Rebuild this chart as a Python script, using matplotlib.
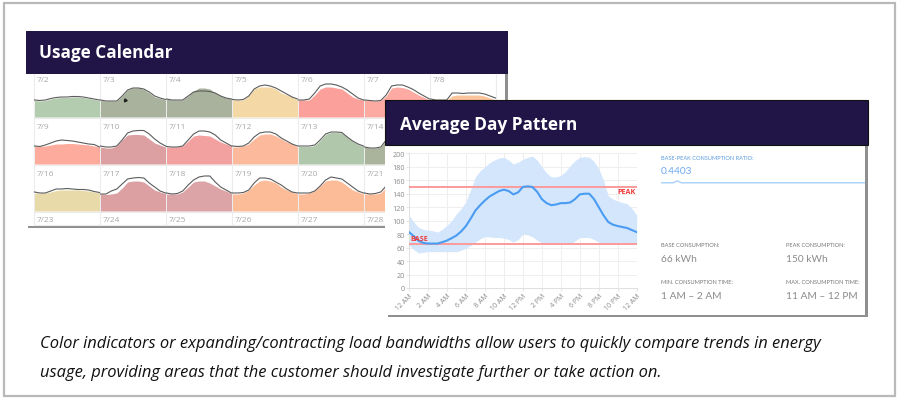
import matplotlib
matplotlib.use("Agg")
import matplotlib.pyplot as plt
from matplotlib.patches import Rectangle

W, H = 900, 402
SANS = ["Open Sans", "Noto Sans", "DejaVu Sans"]
THIN = ["Lato", "Open Sans", "DejaVu Sans"]
plt.rcParams["font.family"] = SANS

# ---------- calendar data (one list per day, every 2 hours, 12 AM to 12 AM) ----------
LINE_02 = [17, 16.5, 17, 18.5, 19.5, 20, 20, 20.5, 20.5, 20, 19, 18, 17]
AREA_02 = [16.5, 16, 16.5, 18, 19, 19.5, 19.5, 20, 20, 19.5, 18.5, 17.5, 16.5]
LINE_03 = [17, 16, 16, 16, 21, 27, 29, 29, 28, 25, 21, 19, 17.5]
AREA_03 = [16.5, 16, 16, 16, 21, 27, 29, 29, 27.5, 24, 20, 18.5, 17]
LINE_04 = [18, 17, 17, 17, 21, 25, 26, 26, 25.5, 24, 21, 19, 18]
AREA_04 = [18, 17, 17, 17, 21, 26, 29, 29, 28, 24, 21, 19, 18]
LINE_05 = [17.5, 17, 17.5, 21, 28, 31, 32, 31, 29, 26, 23, 20, 18]
AREA_05 = [17, 17, 17, 21, 28, 30, 30, 30, 28, 24, 22, 20, 17]
LINE_06 = [17, 17, 18, 24, 31, 33, 33, 32, 30, 27, 23, 19, 17]
AREA_06 = [17, 17, 17, 22, 28, 30, 30, 29, 28, 24, 20, 18, 17]
LINE_07 = [17, 16.5, 16, 16.5, 22, 31, 32, 32, 30, 27.5, 24, 21, 18]
AREA_07 = [17, 16.5, 16, 16.5, 21, 29, 30, 29.5, 28, 25, 22, 19.5, 17]
LINE_08 = [18, 17, 17, 17, 24, 24, 23.5, 24, 24, 24, 23, 21, 19]
AREA_08 = [17, 17, 17, 17, 21, 22, 22, 22, 22, 22, 21, 19, 17]

LINE_09 = [18, 17.5, 19, 21, 23, 24, 23.5, 23, 22, 21, 20, 19.5, 17]
AREA_09 = [17.5, 17.5, 18, 19, 20, 20, 20.5, 20.5, 20, 19.5, 19, 18, 17]
LINE_10 = [18, 17, 17, 18, 24, 31, 33, 33.5, 33.5, 30, 25, 21, 18]
AREA_10 = [17, 16, 16, 18, 24, 29, 29.5, 29.5, 29, 25, 21, 19, 17]
LINE_11 = [17.5, 17, 17, 18, 24, 30, 33, 33, 32, 29, 24, 21, 18]
AREA_11 = [17, 17, 17, 18, 23, 28, 29, 28.5, 28, 25, 22, 20, 18]
LINE_12 = [18, 17.5, 18, 21, 27, 31, 32, 32, 30, 26, 23, 20, 18]
AREA_12 = [17, 17, 18, 20, 25, 29, 30, 30, 28, 25, 22, 20, 17]
LINE_13 = [18, 18, 18, 19, 24, 30, 32, 32, 31.5, 27, 23, 20, 18]
AREA_13 = [17.5, 17.5, 17.5, 18.5, 23.5, 29.5, 31.5, 31.5, 31, 26.5, 22.5, 19.5, 17.5]
LINE_14 = [17, 16, 16, 17, 24, 30, 31, 31, 30, 26, 22, 20, 18]
AREA_14 = [17, 16, 16, 17, 24, 29, 30, 30, 29, 25, 21, 19, 17]

LINE_16 = [19, 18, 18, 20, 22, 22, 22.5, 22, 21.5, 21.5, 21, 19.5, 18.5]
AREA_16 = [18, 18, 18, 19, 20.5, 21, 21, 21, 21, 20.5, 20, 19, 18]
LINE_17 = [17, 17, 20, 22, 27, 32, 33, 33.5, 33, 28, 24, 20, 18]
AREA_17 = [17, 16.5, 17, 18, 23, 29, 30, 30, 29, 25, 21, 19, 17.5]
LINE_18 = [18, 17, 17.5, 20, 26, 31, 34, 35, 35, 29, 24, 21, 18]
AREA_18 = [17, 17, 17, 19, 24, 29, 30, 30, 28, 25, 22, 20, 17.5]
LINE_19 = [18, 18, 18.5, 21, 28, 33, 33, 32, 29, 26, 22, 19, 18]
AREA_19 = [17, 17, 18, 21, 26, 30, 31, 30, 28, 24, 21, 19, 17]
LINE_20 = [18, 18, 18, 20, 25, 31, 34, 33, 32, 28, 24, 20, 18]
AREA_20 = [17, 17, 18, 20, 25, 30, 31, 31, 29, 25, 21, 19, 17]
LINE_21 = [18, 17, 17.5, 19, 25, 30, 32, 32, 30, 26, 22, 20, 18]
AREA_21 = [17, 17, 17, 18, 24, 29, 30, 30, 28, 24, 21, 19, 17]

ROW1_COLORS = ["#b3cbae", "#a9b29d", "#a9b29d", "#f4d8a5", "#fba09a", "#fdaba2", "#fcc49a"]
ROW2_COLORS = ["#fdab9c", "#dca0a3", "#f2a0a0", "#fdb99b", "#b0c7ab", "#aab49d"]
ROW3_COLORS = ["#e8dba9", "#dca0a3", "#dca4a6", "#fdbc98", "#fdbc98", "#fdbc98"]
ROW1_LINES = [LINE_02, LINE_03, LINE_04, LINE_05, LINE_06, LINE_07, LINE_08]
ROW1_AREAS = [AREA_02, AREA_03, AREA_04, AREA_05, AREA_06, AREA_07, AREA_08]
ROW2_LINES = [LINE_09, LINE_10, LINE_11, LINE_12, LINE_13, LINE_14]
ROW2_AREAS = [AREA_09, AREA_10, AREA_11, AREA_12, AREA_13, AREA_14]
ROW3_LINES = [LINE_16, LINE_17, LINE_18, LINE_19, LINE_20, LINE_21]
ROW3_AREAS = [AREA_16, AREA_17, AREA_18, AREA_19, AREA_20, AREA_21]
ROW_LABELS_1 = ["7/2", "7/3", "7/4", "7/5", "7/6", "7/7", "7/8"]
ROW_LABELS_2 = ["7/9", "7/10", "7/11", "7/12", "7/13", "7/14"]
ROW_LABELS_3 = ["7/16", "7/17", "7/18", "7/19", "7/20", "7/21"]
ROW_LABELS_4 = ["7/23", "7/24", "7/25", "7/26", "7/27", "7/28"]
CELL_HOURS = [0, 2, 4, 6, 8, 10, 12, 14, 16, 18, 20, 22, 24]

# ---------- average day data (half-hourly readings) ----------
HOURS = [h / 2 for h in range(49)]
MEAN = [83, 77, 70, 67, 66, 66, 66, 68, 70.5, 74, 78, 84, 92, 103, 115, 123, 130, 136, 140, 144, 146, 144, 139, 142,
        150, 151, 150, 143, 132, 126, 123, 124, 126, 126, 127, 132, 139, 140, 140, 132, 120, 108, 98, 94, 92, 90.5, 89, 86, 83]
UPPER = [108, 98, 90, 87, 86, 85, 83, 87, 93, 100, 110, 118, 128, 146, 165, 174, 180, 186, 190, 193, 194, 190, 184, 187,
         191, 194, 196, 190, 180, 171, 165, 165, 167, 173, 182, 189, 194, 195, 194, 188, 177, 160, 137, 132, 129, 127, 125, 118, 108]
LOWER = [64, 57, 52, 53, 54, 54, 54, 54, 54, 54, 54, 56, 59, 63, 68, 73, 76, 76, 75, 75, 74, 72, 68, 72,
         80, 79, 76, 71, 67, 66, 66, 66, 66, 65, 65, 70, 75, 75, 75, 72, 68, 67, 66, 66, 66, 66, 66, 66, 66]
PEAK_VALUE = 150
BASE_VALUE = 66
Y_TICKS = list(range(0, 201, 20))
X_TICKS = list(range(0, 25, 2))
X_LABELS = ["12 AM", "2 AM", "4 AM", "6 AM", "8 AM", "10 AM", "12 PM", "2 PM", "4 PM", "6 PM", "8 PM", "10 PM", "12 AM"]
SPARK_X = [0, 4, 6, 8, 10, 14, 100]
SPARK_Y = [0, 0, 0, 1, 0, 0, 0]

NAVY = "#211548"
SHADOW = "#8f8f8f"

fig = plt.figure(figsize=(W / 100, H / 100), dpi=100, facecolor="white")


def px_axes(x0, y0, x1, y1, z):
    a = fig.add_axes([x0 / W, 1 - y1 / H, (x1 - x0) / W, (y1 - y0) / H], zorder=z)
    return a


bg = px_axes(0, 0, W, H, 0)
bg.set_xlim(0, W)
bg.set_ylim(H, 0)
bg.axis("off")


def rect(a, x0, y0, x1, y1, color, z=1, **kw):
    a.add_patch(Rectangle((x0, y0), x1 - x0, y1 - y0, facecolor=color, edgecolor="none", zorder=z, **kw))


# outer frame
bg.add_patch(Rectangle((3.5, 3.5), 891.5, 393.5, facecolor="white", edgecolor="#b9b9b9", lw=1.6, zorder=0))

# calendar panel
rect(bg, 28, 226, 507, 229, SHADOW)
rect(bg, 505, 74, 507.5, 229, SHADOW)
rect(bg, 27, 74, 505, 227, "white", z=2)
rect(bg, 26, 32, 507.5, 74.5, NAVY, z=3)
bg.text(39, 53, "Usage Calendar", color="white", fontsize=12.3, fontweight="bold", va="center", zorder=4)

CELL_X0, CELL_W = 34, 66
BASELINES = [118, 165, 212]
for i in range(8):
    bg.plot([CELL_X0 + CELL_W * i] * 2, [75, 226], color="#ececec", lw=0.8, zorder=3)
for y in [119, 166, 213, 226]:
    bg.plot([CELL_X0, 497], [y, y], color="#ececec", lw=0.8, zorder=3)

for labels, y in zip([ROW_LABELS_1, ROW_LABELS_2, ROW_LABELS_3, ROW_LABELS_4], [80.5, 127.5, 174.5, 221]):
    for i, lab in enumerate(labels):
        bg.text(CELL_X0 + CELL_W * i + 2.5, y, lab, color="#a8a8a8", fontsize=6, va="center", zorder=4)

for base, lines, areas, colors in zip(BASELINES, [ROW1_LINES, ROW2_LINES, ROW3_LINES],
                                      [ROW1_AREAS, ROW2_AREAS, ROW3_AREAS],
                                      [ROW1_COLORS, ROW2_COLORS, ROW3_COLORS]):
    for i, (ln, ar, col) in enumerate(zip(lines, areas, colors)):
        x0 = CELL_X0 + CELL_W * i
        c = px_axes(x0 + 0.5, base - 42, x0 + CELL_W - 0.5, base, 1)
        c.set_xlim(0, 24)
        c.set_ylim(0, 42)
        c.axis("off")
        c.patch.set_alpha(0)
        c.fill_between(CELL_HOURS, 0, ar, color=col, lw=0)
        c.plot(CELL_HOURS, ln, color="#5c5c5c", lw=0.8, clip_on=False)

# average day panel chrome
ov = px_axes(0, 0, W, H, 2)
ov.set_xlim(0, W)
ov.set_ylim(H, 0)
ov.axis("off")
ov.patch.set_alpha(0)
ov.plot([124.5], [100.5], marker=(3, 0, 25), color="#222222", ms=2.5, ls="none", zorder=1)
rect(ov, 388, 315, 868, 318, SHADOW)
rect(ov, 865, 146, 868, 318, SHADOW)
rect(ov, 385, 146, 865, 315.5, "white", z=2)
rect(ov, 385, 101, 868, 146, NAVY, z=3)
ov.add_patch(Rectangle((385, 101), 483, 45, facecolor="none", edgecolor="#111111", lw=0.8, zorder=4))
ov.text(400, 124.5, "Average Day Pattern", color="white", fontsize=12.4, fontweight="bold", va="center", zorder=5)

SMALL = "#777777"
LARGE = "#8a8a8a"
SZ_S, SZ_L = 4.1, 7.3
ov.text(661, 158.5, "BASE-PEAK CONSUMPTION RATIO:", color="#5b9be0", fontsize=SZ_S, family=THIN, va="center", zorder=5)
ov.text(661, 172, "0.4403", color="#6fa9ee", fontsize=SZ_L, family=THIN, va="center", zorder=5)
ov.text(661, 246, "BASE CONSUMPTION:", color=SMALL, fontsize=SZ_S, family=THIN, va="center", zorder=5)
ov.text(786, 246, "PEAK CONSUMPTION:", color=SMALL, fontsize=SZ_S, family=THIN, va="center", zorder=5)
ov.text(661, 260, "66 kWh", color=LARGE, fontsize=SZ_L, family=THIN, va="center", zorder=5)
ov.text(786, 260, "150 kWh", color=LARGE, fontsize=SZ_L, family=THIN, va="center", zorder=5)
ov.text(661, 283, "MIN. CONSUMPTION TIME:", color=SMALL, fontsize=SZ_S, family=THIN, va="center", zorder=5)
ov.text(786, 283, "MAX. CONSUMPTION TIME:", color=SMALL, fontsize=SZ_S, family=THIN, va="center", zorder=5)
ov.text(661, 297, "1 AM – 2 AM", color=LARGE, fontsize=SZ_L, family=THIN, va="center", zorder=5)
ov.text(786, 297, "11 AM – 12 PM", color=LARGE, fontsize=SZ_L, family=THIN, va="center", zorder=5)

# caption
ov.text(40, 344.5, "Color indicators or expanding/contracting load bandwidths allow users to quickly compare trends in energy",
        color="#111111", fontsize=11.9, style="italic", va="center", zorder=5)
ov.text(40, 373.5, "usage, providing areas that the customer should investigate further or take action on.",
        color="#111111", fontsize=11.9, style="italic", va="center", zorder=5)

# main chart
ch = px_axes(409, 154.3, 636.7, 289, 3)
ch.set_xlim(0, 24)
ch.set_ylim(0, 200)
ch.set_facecolor("white")
ch.fill_between(HOURS, LOWER, UPPER, color="#d3e6fc", lw=0, zorder=2)
ch.plot(HOURS, MEAN, color="#4a9cf2", lw=1.5, zorder=4, solid_joinstyle="round")
ch.axhline(PEAK_VALUE, color="#fb9a9c", lw=1.4, zorder=3)
ch.axhline(BASE_VALUE, color="#fb9a9c", lw=1.4, zorder=3)
ch.text(22.9, 143, "PEAK", color="#f03a3a", fontsize=5.2, fontweight="bold", ha="center", va="center", zorder=5)
ch.text(1.1, 73, "BASE", color="#f03a3a", fontsize=5.2, fontweight="bold", ha="center", va="center", zorder=5)
ch.set_xticks(X_TICKS)
ch.set_xticklabels(X_LABELS, rotation=45, ha="right", rotation_mode="anchor", fontsize=5, color="#8a8a8a")
ch.set_yticks(Y_TICKS)
ch.tick_params(axis="y", labelsize=5.2, labelcolor="#8a8a8a", length=2, color="#e6e6e6", pad=1)
ch.tick_params(axis="x", length=2, color="#e6e6e6", pad=1)
ch.grid(True, color="#eeeeee", lw=0.7, zorder=1)
ch.set_axisbelow(True)
for s in ["top", "right"]:
    ch.spines[s].set_visible(False)
for s in ["left", "bottom"]:
    ch.spines[s].set_color("#e0e0e0")
    ch.spines[s].set_linewidth(0.7)

# ratio sparkline
sp = px_axes(661, 180, 865, 187, 3)
sp.set_xlim(0, 100)
sp.set_ylim(-1.7, 2.0)
sp.axis("off")
sp.patch.set_alpha(0)
sp.plot(SPARK_X, SPARK_Y, color="#a9d0f7", lw=1.0)

fig.savefig("out.png", dpi=100, facecolor="white")
